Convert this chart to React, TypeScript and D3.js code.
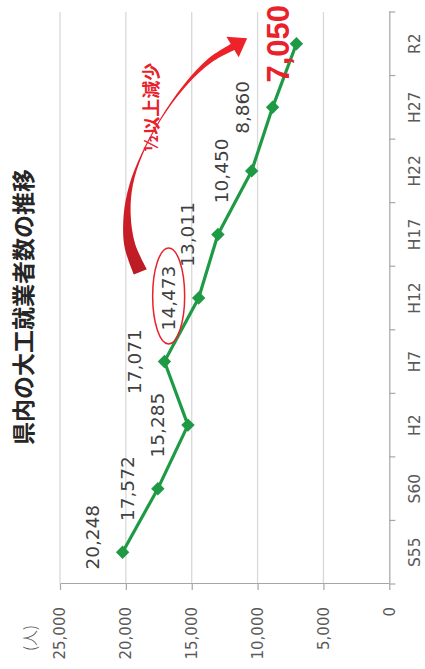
import { useEffect, useRef } from "react";
import * as d3 from "d3";

const categories = ["S55", "S60", "H2", "H7", "H12", "H17", "H22", "H27", "R2"];
const workers = [20248, 17572, 15285, 17071, 14473, 13011, 10450, 8860, 7050];
const valueTicks = [0, 5000, 10000, 15000, 20000, 25000];
const title = "県内の大工就業者数の推移";
const unitLabel = "(人)";
const noteText = "½以上減少";
const circledCategory = "H12";

// curved arrow centreline in data space: [category position, value, ribbon width]
const arrowTrack: [number, number, number][] = [
  [4.41, 18900, 14],
  [4.83, 19700, 11],
  [5.31, 19900, 7],
  [5.78, 19600, 3.5],
  [6.25, 18800, 1.5],
  [6.8, 17400, 1.2],
  [7.35, 15500, 2.5],
  [7.74, 13600, 5],
  [7.95, 11900, 7],
];

export default function App() {
  const svgRef = useRef<SVGSVGElement>(null);

  useEffect(() => {
    if (!svgRef.current) return;

    const SW = 425;
    const SH = 669;
    // the chart is laid out lying on its side: W x H, then turned -90deg
    const W = SH;
    const H = SW;
    const margin = { left: 85, right: 12, top: 60, bottom: 35.7 };

    const red = "#e8212b";
    const green = "#1e9a45";
    const axisGrey = "#a6a6a6";
    const textGrey = "#595959";

    const root = d3.select(svgRef.current);
    root.selectAll("*").remove();
    root.attr("width", SW).attr("height", SH).attr("viewBox", `0 0 ${SW} ${SH}`);

    root.append("rect").attr("width", SW).attr("height", SH).attr("fill", "#fff");

    const defs = root.append("defs");
    const svg = root.append("g").attr("transform", `translate(0,${SH}) rotate(-90)`);

    const xBand = d3
      .scaleBand<string>()
      .domain(categories)
      .range([margin.left, W - margin.right]);
    const yScale = d3
      .scaleLinear()
      .domain([0, 25000])
      .range([H - margin.bottom, margin.top]);
    const catX = (p: number) => margin.left + (p + 0.5) * xBand.step();
    const cx = (c: string) => (xBand(c) as number) + xBand.bandwidth() / 2;

    // gridlines
    svg
      .selectAll(".grid")
      .data(valueTicks.filter((t) => t > 0))
      .enter()
      .append("line")
      .attr("x1", margin.left)
      .attr("x2", W - margin.right)
      .attr("y1", (d) => yScale(d))
      .attr("y2", (d) => yScale(d))
      .attr("stroke", "#d9d9d9")
      .attr("stroke-width", 1.3);

    // value axis
    const yAxis = d3
      .axisLeft(yScale)
      .tickValues(valueTicks)
      .tickSize(6)
      .tickSizeOuter(0)
      .tickPadding(17)
      .tickFormat((d) => d3.format(",")(Number(d)));
    const yg = svg.append("g").attr("transform", `translate(${margin.left},0)`).call(yAxis);
    yg.selectAll("text")
      .attr("fill", textGrey)
      .style("font-family", "'DejaVu Sans', sans-serif")
      .style("font-size", "15px");
    yg.selectAll(".domain, .tick line").attr("stroke", axisGrey).attr("stroke-width", 1.2);

    // category axis
    const xAxis = d3.axisBottom(xBand).tickSize(0).tickSizeOuter(0).tickPadding(20);
    const xg = svg.append("g").attr("transform", `translate(0,${yScale(0)})`).call(xAxis);
    xg.selectAll("text")
      .attr("fill", textGrey)
      .style("font-family", "'DejaVu Sans', sans-serif")
      .style("font-size", "15.5px");
    xg.select(".domain").attr("stroke", axisGrey).attr("stroke-width", 1.2);
    xg.selectAll(".bound")
      .data(d3.range(categories.length + 1))
      .enter()
      .append("line")
      .attr("x1", (i) => margin.left + i * xBand.step())
      .attr("x2", (i) => margin.left + i * xBand.step())
      .attr("y1", 0)
      .attr("y2", 6)
      .attr("stroke", axisGrey)
      .attr("stroke-width", 1.2);

    // unit
    svg
      .append("text")
      .attr("x", 31)
      .attr("y", 29)
      .attr("text-anchor", "middle")
      .attr("dominant-baseline", "central")
      .attr("fill", textGrey)
      .style("font-family", "'Noto Sans CJK JP', sans-serif")
      .style("font-weight", "300")
      .style("font-size", "16px")
      .text(unitLabel);

    // title
    svg
      .append("text")
      .attr("x", 362)
      .attr("y", 22)
      .attr("text-anchor", "middle")
      .attr("dominant-baseline", "central")
      .attr("fill", "#262626")
      .style("font-family", "'Noto Sans CJK JP', sans-serif")
      .style("font-weight", "bold")
      .style("font-size", "23px")
      .text(title);

    // line + markers
    const pts = categories.map((c, i) => ({ c, v: workers[i], x: cx(c), y: yScale(workers[i]) }));
    svg
      .append("path")
      .datum(pts)
      .attr("d", d3.line<(typeof pts)[number]>().x((d) => d.x).y((d) => d.y))
      .attr("fill", "none")
      .attr("stroke", green)
      .attr("stroke-width", 3.2)
      .attr("stroke-linejoin", "round");

    svg
      .selectAll(".mk")
      .data(pts)
      .enter()
      .append("path")
      .attr("d", d3.symbol(d3.symbolSquare, 90)() as string)
      .attr("transform", (d) => `translate(${d.x},${d.y}) rotate(45)`)
      .attr("fill", green);

    // data labels
    const last = pts.length - 1;
    svg
      .selectAll(".lbl")
      .data(pts)
      .enter()
      .append("text")
      .attr("x", (d, i) => d.x + (i === 0 ? 15 : 0))
      .attr("y", (d, i) => d.y - (i === last ? 18 : 30))
      .attr("text-anchor", "middle")
      .attr("dominant-baseline", "central")
      .attr("fill", (d, i) => (i === last ? red : "#404040"))
      .style("font-family", (d, i) =>
        i === last ? "'Liberation Sans', Arial, sans-serif" : "'DejaVu Sans', sans-serif"
      )
      .style("font-weight", (d, i) => (i === last ? "bold" : "normal"))
      .style("font-size", (d, i) => (i === last ? "31px" : "18.5px"))
      .text((d) => d3.format(",")(d.v));

    // circled label
    const circ = pts[categories.indexOf(circledCategory)];
    svg
      .append("ellipse")
      .attr("cx", circ.x + 2)
      .attr("cy", circ.y - 30)
      .attr("rx", 48)
      .attr("ry", 16)
      .attr("fill", "none")
      .attr("stroke", red)
      .attr("stroke-width", 1.5);

    // curved arrow
    const track = arrowTrack.map(([c, v, w]) => [catX(c), yScale(v), w]);
    const left: [number, number][] = [];
    const right: [number, number][] = [];
    track.forEach((p, i) => {
      const a = track[Math.max(0, i - 1)];
      const b = track[Math.min(track.length - 1, i + 1)];
      const dx = b[0] - a[0];
      const dy = b[1] - a[1];
      const len = Math.hypot(dx, dy);
      const nx = -dy / len;
      const ny = dx / len;
      left.push([p[0] + (nx * p[2]) / 2, p[1] + (ny * p[2]) / 2]);
      right.push([p[0] - (nx * p[2]) / 2, p[1] - (ny * p[2]) / 2]);
    });
    const end = track[track.length - 1];
    const prev = track[track.length - 2];
    const hl = Math.hypot(end[0] - prev[0], end[1] - prev[1]);
    const ux = (end[0] - prev[0]) / hl;
    const uy = (end[1] - prev[1]) / hl;
    const tip = [end[0] + ux * 17, end[1] + uy * 17];
    const c1 = [end[0] - uy * 12, end[1] + ux * 12];
    const c2 = [end[0] + uy * 12, end[1] - ux * 12];
    const edge = d3.line().curve(d3.curveCatmullRom);
    const dPath =
      (edge(left) as string) +
      `L${c1[0]},${c1[1]}L${tip[0]},${tip[1]}L${c2[0]},${c2[1]}` +
      (edge(right.slice().reverse()) as string).replace(/^M/, "L") +
      "Z";

    const grad = defs
      .append("linearGradient")
      .attr("id", "arrowGrad")
      .attr("gradientUnits", "userSpaceOnUse")
      .attr("x1", track[0][0])
      .attr("y1", track[0][1])
      .attr("x2", end[0])
      .attr("y2", end[1]);
    grad.append("stop").attr("offset", 0).attr("stop-color", "#bb1c24");
    grad.append("stop").attr("offset", 0.45).attr("stop-color", "#e2202a");
    grad.append("stop").attr("offset", 1).attr("stop-color", "#ee2229");

    svg.append("path").attr("d", dPath).attr("fill", "url(#arrowGrad)");

    // note
    svg
      .append("text")
      .attr("x", catX(7.0))
      .attr("y", yScale(18200))
      .attr("text-anchor", "middle")
      .attr("dominant-baseline", "central")
      .attr("fill", red)
      .style("font-family", "'Noto Sans CJK JP', sans-serif")
      .style("font-weight", "bold")
      .style("font-size", "18px")
      .text(noteText);
  }, []);

  return (
    <svg
      ref={svgRef}
      style={{ position: "absolute", left: 0, top: 0, display: "block" }}
    />
  );
}
